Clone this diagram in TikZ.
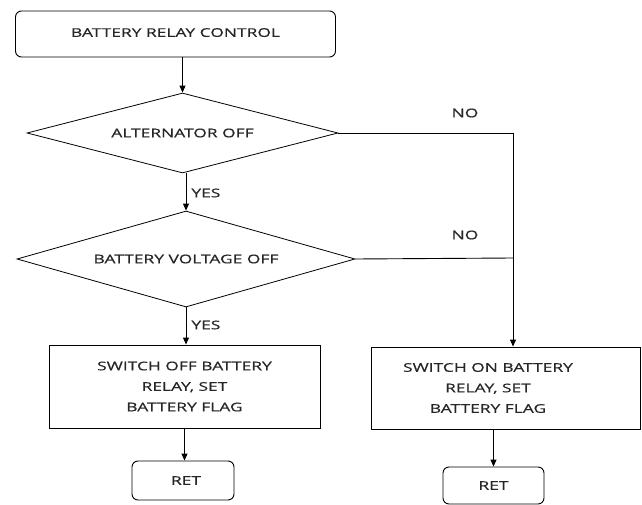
\documentclass[tikz,border=0pt]{standalone}
\usepackage{fontspec}
\setmainfont{Open Sans}[FakeStretch=1.45,FakeBold=0.5]
\usetikzlibrary{shapes.geometric,arrows.meta}
\begin{document}
\begin{tikzpicture}[x=1pt,y=-1pt,
  line width=0.9pt,
  txt/.style={font=\fontsize{12}{20.5}\selectfont, text=black!85},
  term/.style={draw, rounded corners=6pt, inner sep=0pt, txt},
  proc/.style={draw, inner sep=0pt, txt, align=center},
  dec/.style={draw, diamond, inner sep=0pt, txt, line width=0.8pt},
  arr/.style={-{Triangle[length=7pt,width=6pt]}},
  lbl/.style={txt, inner sep=0pt}]
\useasboundingbox (0,0) rectangle (642,505);
\node[term, minimum width=320, minimum height=46] (top) at (175.5,34) {\raisebox{3pt}{BATTERY RELAY CONTROL}\hspace{14pt}};
\node[dec, minimum width=311, minimum height=80, aspect=3.9] (d1) at (182.5,133) {ALTERNATOR OFF\hspace{7pt}};
\node[dec, minimum width=338, minimum height=96, aspect=3.5] (d2) at (186,259) {BATTERY VOLTAGE OFF\hspace{12pt}};
\node[proc, minimum width=271, minimum height=83] (b1) at (184.5,386.5) {SWITCH OFF BATTERY\\RELAY, SET\\BATTERY FLAG};
\node[draw, minimum width=269, minimum height=82, inner sep=0pt,
  label={[lbl, align=center, xshift=-18pt]center:{SWITCH ON BATTERY\\RELAY, SET\\BATTERY FLAG}}] (b2) at (506,388) {};
\node[term, minimum width=102, minimum height=39] (r1) at (183,480.5) {\hspace{6pt}RET};
\node[term, minimum width=101, minimum height=37] (r2) at (493.5,485.5) {\raisebox{-2pt}{RET}};
\coordinate (j1) at (513,133);
\coordinate (j2) at (513,258);
\draw[arr] (d1.north |- top.south) -- (d1.north);
\draw[arr] (d2.north |- d1.south) -- (d2.north);
\draw[arr] (d2.south) -- (d2.south |- b1.north);
\draw (d1.east) -- (j1);
\draw[arr] (j1) -- (j1 |- b2.north);
\draw (d2.east) -- (j2);
\draw[arr] (b1.south) -- (b1.south |- r1.north);
\draw[arr] (r2.north |- b2.south) -- (r2.north);
\node[lbl] (no1) at (465,113) {NO};
\node[lbl] (no2) at (465,235) {NO};
\node[lbl, anchor=west] (yes1) at (191,193) {YES};
\node[lbl, anchor=west] (yes2) at (191,325) {YES};
\end{tikzpicture}
\end{document}
